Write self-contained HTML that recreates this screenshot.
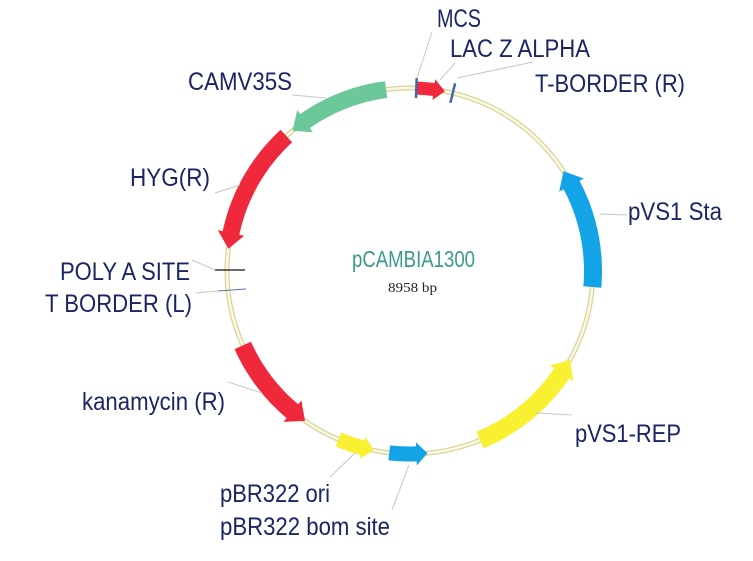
<!DOCTYPE html>
<html><head><meta charset="utf-8"><style>
html,body{margin:0;padding:0;background:#fff;}
svg{display:block;}
.l{font-family:"Liberation Sans",Arial,sans-serif;font-size:25px;fill:#1b2464;}
.ld{stroke:#c8c8c0;stroke-width:1;fill:none;}
</style></head><body>
<svg id="s" width="753" height="561" viewBox="0 0 753 561" xmlns="http://www.w3.org/2000/svg">
<circle cx="410" cy="271" r="183" fill="none" stroke="#d9d39a" stroke-width="5"/>
<circle cx="410" cy="271" r="183" fill="none" stroke="#fbf9e4" stroke-width="2.5"/>
<g id="arrows"></g>
<line x1="215" y1="270" x2="245" y2="270" stroke="#111" stroke-width="1.2"/>
<line x1="218" y1="291" x2="246" y2="289" stroke="#5577aa" stroke-width="1"/>
<line class="ld" x1="432" y1="32" x2="417" y2="78"/>
<line class="ld" x1="455" y1="63" x2="440" y2="80"/>
<line class="ld" x1="533" y1="62" x2="457" y2="78"/>
<line class="ld" x1="292" y1="95" x2="326" y2="98"/>
<line class="ld" x1="215" y1="193" x2="240" y2="185"/>
<line class="ld" x1="627" y1="215" x2="600" y2="214"/>
<line class="ld" x1="192" y1="260" x2="215" y2="270"/>
<line class="ld" x1="196" y1="293" x2="218" y2="291"/>
<line class="ld" x1="228" y1="382" x2="262" y2="393"/>
<line class="ld" x1="572" y1="415" x2="535" y2="413"/>
<line class="ld" x1="330" y1="477" x2="355" y2="453"/>
<line class="ld" x1="392" y1="510" x2="409" y2="465"/>
<text class="l" x="437" y="27" textLength="44" lengthAdjust="spacingAndGlyphs">MCS</text>
<text class="l" x="450" y="57" textLength="140" lengthAdjust="spacingAndGlyphs">LAC Z ALPHA</text>
<text class="l" x="535" y="92" textLength="150" lengthAdjust="spacingAndGlyphs">T-BORDER (R)</text>
<text class="l" x="188" y="90" textLength="104" lengthAdjust="spacingAndGlyphs">CAMV35S</text>
<text class="l" x="130" y="186" textLength="80" lengthAdjust="spacingAndGlyphs">HYG(R)</text>
<text class="l" x="628" y="220" textLength="94" lengthAdjust="spacingAndGlyphs">pVS1 Sta</text>
<text class="l" x="60" y="280" textLength="130" lengthAdjust="spacingAndGlyphs">POLY A SITE</text>
<text class="l" x="45" y="312" textLength="147" lengthAdjust="spacingAndGlyphs">T BORDER (L)</text>
<text class="l" x="82" y="410" textLength="143" lengthAdjust="spacingAndGlyphs">kanamycin (R)</text>
<text class="l" x="575" y="442" textLength="106" lengthAdjust="spacingAndGlyphs">pVS1-REP</text>
<text class="l" x="220" y="502" textLength="110" lengthAdjust="spacingAndGlyphs">pBR322 ori</text>
<text class="l" x="220" y="535" textLength="170" lengthAdjust="spacingAndGlyphs">pBR322 bom site</text>
<text x="352" y="267" textLength="123" lengthAdjust="spacingAndGlyphs" style="font-family:'Liberation Sans',sans-serif;font-size:23px;fill:#3a9a8a">pCAMBIA1300</text>
<text x="388" y="292" textLength="49" lengthAdjust="spacingAndGlyphs" style="font-family:'Liberation Serif',serif;font-size:14px;fill:#222">8958 bp</text>
</svg>
<script>
(function(){
var cx=410,cy=271,R=183,g=document.getElementById('arrows');
function P(a,r){var t=a*Math.PI/180;return [(cx+r*Math.sin(t)).toFixed(1),(cy-r*Math.cos(t)).toFixed(1)];}
function arrow(a1,a2,w,col,hd,ex){
 var d=a2>a1?1:-1,ab=a2-d*hd,pts=[],i,n=30;
 for(i=0;i<=n;i++){pts.push(P(a1+(ab-a1)*i/n,R+w/2));}
 pts.push(P(ab,R+w/2+ex));pts.push(P(a2,R));pts.push(P(ab,R-w/2-ex));
 for(i=n;i>=0;i--){pts.push(P(a1+(ab-a1)*i/n,R-w/2));}
 var p=document.createElementNS('http://www.w3.org/2000/svg','polygon');
 p.setAttribute('points',pts.map(function(q){return q.join(',')}).join(' '));
 p.setAttribute('fill',col);g.appendChild(p);
}
function tick(a,col){var a1=P(a,R-10),a2=P(a,R+10);var l=document.createElementNS('http://www.w3.org/2000/svg','line');
 l.setAttribute('x1',a1[0]);l.setAttribute('y1',a1[1]);l.setAttribute('x2',a2[0]);l.setAttribute('y2',a2[1]);
 l.setAttribute('stroke',col);l.setAttribute('stroke-width','2.5');g.appendChild(l);}
arrow(-7.5,-40,17,'#6cc79a',5,5);
arrow(-42.5,-83,17,'#f0283c',5,5);
arrow(2,11,13,'#f0283c',3.5,4);
tick(2,'#4466aa');tick(13.5,'#4466aa');
arrow(95,57,18,'#12a4e6',5,5);
arrow(157.5,119,18,'#f8f030',5,5);
arrow(186.5,174.5,15,'#12a4e6',3.5,4);
arrow(203,191.5,15,'#f8f030',3.5,4);
arrow(246,215,18,'#f0283c',5,5);
})();
</script>
</body></html>
